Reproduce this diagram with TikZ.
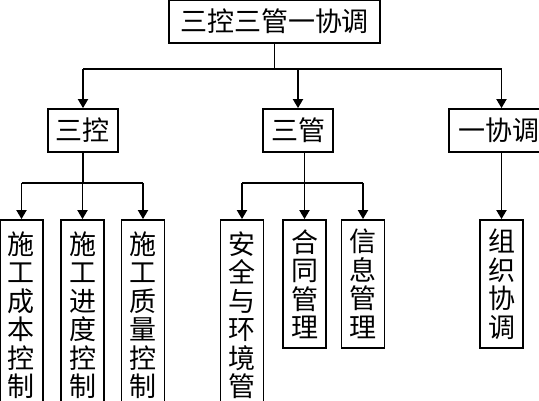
\documentclass[tikz,border=0pt]{standalone}
\usepackage{fontspec}
\setmainfont{Noto Sans CJK SC}
\usetikzlibrary{arrows.meta}
\begin{document}
\begin{tikzpicture}[x=1pt,y=-1pt,
  box/.style={draw,line width=1.8pt,inner sep=0pt,font=\fontsize{27}{28.5}\selectfont},
  vbox/.style={box,align=center,text width=28pt,minimum width=43pt},
  conn/.style={line width=1.8pt},
  arr/.style={conn,-{Triangle[width=10pt,length=9pt]}}]
\useasboundingbox (0,0) rectangle (539,400);
\fill[white] (0,0) rectangle (539,400);
\clip (0,0) rectangle (539,400);
% level 1
\node[box,minimum width=211pt,minimum height=43pt] (top) at (274.5,21.5) {三控三管一协调};
% level 2
\node[box,minimum width=70pt,minimum height=43pt] (sk) at (83,130.5) {三控};
\node[box,minimum width=70pt,minimum height=43pt] (sg) at (298,130.5) {三管};
\node[box,minimum width=99pt,minimum height=43pt] (yx) at (498.5,130.5) {一协调};
% level 3
\node[vbox,minimum height=190pt] (c1) at (21.5,315) {施\\工\\成\\本\\控\\制};
\node[vbox,minimum height=190pt] (c2) at (82.5,315) {施\\工\\进\\度\\控\\制};
\node[vbox,minimum height=190pt] (c3) at (143,315) {施\\工\\质\\量\\控\\制};
\node[vbox,minimum height=190pt] (g1) at (242,315) {安\\全\\与\\环\\境\\管};
\node[vbox,minimum height=128pt] (g2) at (304.5,284) {合\\同\\管\\理};
\node[vbox,minimum height=128pt] (g3) at (363,284) {信\\息\\管\\理};
\node[vbox,minimum height=128pt] (zj) at (501.5,284) {组\\织\\协\\调};
% connectors level 1 -> 2
\draw[conn] (top.south) -- ++(0,25) coordinate (tb);
\draw[conn] (tb -| sk.north) -- (tb -| zj.north);
\draw[arr] (tb -| sk.north) -- (sk.north);
\draw[arr] (tb -| sg.north) -- (sg.north);
\draw[arr] (tb -| zj.north) -- (zj.north |- yx.north);
% connectors 三控
\draw[conn] (sk.south) -- ++(0,30) coordinate (kb);
\draw[conn] (kb -| c1.north) -- (kb -| c3.north);
\draw[arr] (kb -| c1.north) -- (c1.north);
\draw[arr] (kb -| c2.north) -- (c2.north);
\draw[arr] (kb -| c3.north) -- (c3.north);
% connectors 三管
\draw[conn] (sg.south -| g2.north) -- ++(0,30) coordinate (gb);
\draw[conn] (gb -| g1.north) -- (gb -| g3.north);
\draw[arr] (gb -| g1.north) -- (g1.north);
\draw[arr] (gb -| g2.north) -- (g2.north);
\draw[arr] (gb -| g3.north) -- (g3.north);
% connector 一协调
\draw[arr] (yx.south -| zj.north) -- (zj.north);
\end{tikzpicture}
\end{document}
